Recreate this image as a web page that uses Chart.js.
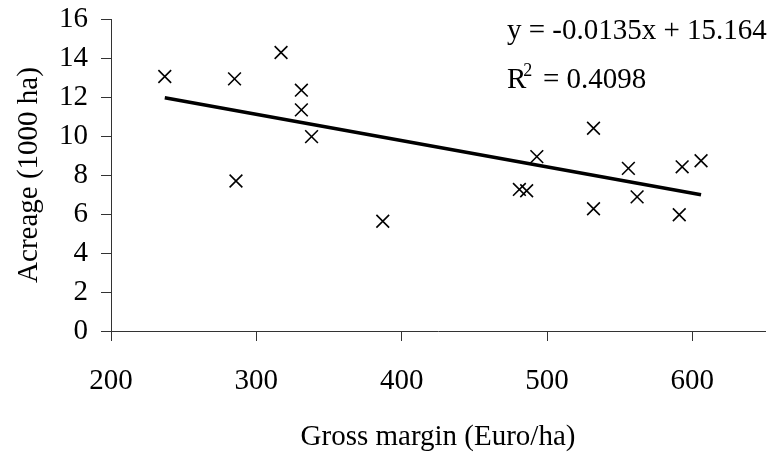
<!DOCTYPE html>
<html>
<head>
<meta charset="utf-8">
<script src="https://cdn.jsdelivr.net/npm/chart.js@4"></script>
<style>
  html, body { margin: 0; padding: 0; background: #fff; }
  canvas { display: block; }
</style>
</head>
<body>
<canvas id="acreageChart" width="768" height="455"></canvas>
<script>
// gross margin (Euro/ha) vs acreage (1000 ha) per region
const grossMargin = [237, 285, 317, 331, 331, 338, 286, 387, 532, 493, 481, 486, 556, 562, 532, 593, 606, 591]
const acreage = [13.05, 12.93, 14.28, 12.35, 11.34, 9.97, 7.69, 5.63, 10.40, 8.94, 7.26, 7.19, 8.34, 6.88, 6.27, 8.42, 8.73, 5.96]

// linear fit as printed on the chart
const slope = -0.0135
const intercept = 15.164
const rSquared = 0.4098

const xTicks = [200, 300, 400, 500, 600]
const yTicks = [0, 2, 4, 6, 8, 10, 12, 14, 16]

const serif = '"Liberation Serif", "Times New Roman", serif'
const axisColor = '#333'

const points = grossMargin.map((x, i) => ({ x: x, y: acreage[i] }))
const xMin = Math.min(...grossMargin)
const xMax = Math.max(...grossMargin)
const trend = [xMin, xMax].map(x => ({ x: x, y: slope * x + intercept }))

// equation + R² in the top right corner
const fitLabel = {
    id: 'fitLabel',
    afterDraw(chart) {
        const { ctx } = chart
        const x0 = 507
        ctx.save()
        ctx.fillStyle = '#000'
        ctx.textBaseline = 'alphabetic'
        ctx.textAlign = 'left'
        ctx.font = '29px ' + serif
        ctx.fillText('y = ' + slope + 'x + ' + intercept, x0, 39)
        ctx.fillText('R', x0, 88)
        const supX = x0 + ctx.measureText('R').width - 3
        ctx.font = '18px ' + serif
        ctx.fillText('2', supX, 76)
        ctx.font = '29px ' + serif
        ctx.fillText('= ' + rSquared, 543, 88)
        ctx.restore()
    }
}

// fixed axis boxes, no extra padding from the tick labels
const fixY = s => { s.width = 111; s.paddingTop = 0; s.paddingBottom = 0 }
const fixX = s => { s.height = 124; s.paddingLeft = 0; s.paddingRight = 0 }

new Chart(document.getElementById('acreageChart'), {
    type: 'scatter',
    data: {
        datasets: [
            {
                label: 'Regions',
                data: points,
                pointStyle: 'crossRot',
                pointRadius: 9,
                pointHoverRadius: 9,
                borderColor: '#000',
                backgroundColor: 'transparent',
                borderWidth: 1.6
            },
            {
                type: 'line',
                label: 'Linear fit',
                data: trend,
                borderColor: '#000',
                borderWidth: 3.5,
                pointRadius: 0,
                fill: false
            }
        ]
    },
    options: {
        responsive: false,
        animation: false,
        layout: { autoPadding: false, padding: { top: 19, right: 3, left: 0, bottom: 0 } },
        plugins: {
            legend: { display: false },
            tooltip: { enabled: false }
        },
        scales: {
            x: {
                type: 'linear',
                min: 200,
                max: 650,
                afterBuildTicks: s => { s.ticks = xTicks.map(v => ({ value: v })) },
                afterFit: fixX,
                border: { color: axisColor, width: 1 },
                grid: { drawOnChartArea: false, tickLength: 10, color: axisColor, lineWidth: 1 },
                ticks: {
                    color: '#000',
                    font: { family: serif, size: 29 },
                    padding: 23,
                    maxRotation: 0,
                    autoSkip: false
                },
                title: {
                    display: true,
                    text: 'Gross margin (Euro/ha)',
                    color: '#000',
                    font: { family: serif, size: 29 },
                    padding: { top: 0, bottom: 0 }
                }
            },
            y: {
                min: 0,
                max: 16,
                afterBuildTicks: s => { s.ticks = yTicks.map(v => ({ value: v })) },
                afterFit: fixY,
                border: { color: axisColor, width: 1 },
                grid: { drawOnChartArea: false, tickLength: 10, color: axisColor, lineWidth: 1 },
                ticks: {
                    color: '#000',
                    font: { family: serif, size: 29 },
                    padding: 13,
                    autoSkip: false
                },
                title: {
                    display: true,
                    text: 'Acreage (1000 ha)',
                    color: '#000',
                    font: { family: serif, size: 29 },
                    padding: { top: 12, bottom: 0 }
                }
            }
        }
    },
    plugins: [fitLabel]
})
</script>
</body>
</html>
